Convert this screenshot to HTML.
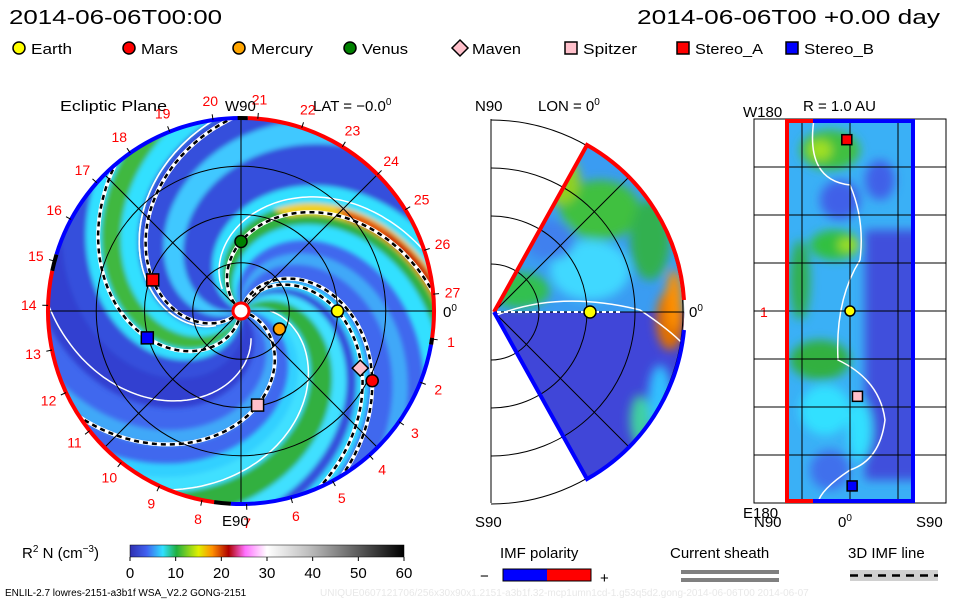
<!DOCTYPE html>
<html><head><meta charset="utf-8">
<style>
html,body{margin:0;padding:0;background:#fff;}
svg{display:block;font-family:"Liberation Sans",sans-serif;}
</style></head>
<body>
<svg id="chart" width="960" height="600" viewBox="0 0 960 600" xmlns="http://www.w3.org/2000/svg">
<defs>
 <filter id="blur2" x="-10%" y="-10%" width="120%" height="120%"><feGaussianBlur stdDeviation="2.5"/></filter>
 <filter id="blur4" x="-10%" y="-10%" width="120%" height="120%"><feGaussianBlur stdDeviation="5"/></filter>
 <clipPath id="clipCircle"><circle cx="241" cy="311" r="193"/></clipPath>
 <clipPath id="clipWedge"><path id="wedgePath" d="M494,312 L587,145 A192,192 0 0 1 587,479 Z"/></clipPath>
 <clipPath id="clipStrip"><rect x="785" y="119" width="130" height="384"/></clipPath>
 <linearGradient id="cbar" x1="0" x2="1" y1="0" y2="0">
  <stop offset="0" stop-color="#3030b0"/>
  <stop offset="0.06" stop-color="#4060f0"/>
  <stop offset="0.12" stop-color="#30e0ff"/>
  <stop offset="0.17" stop-color="#20b040"/>
  <stop offset="0.25" stop-color="#e0f000"/>
  <stop offset="0.3" stop-color="#ff9000"/>
  <stop offset="0.36" stop-color="#b00000"/>
  <stop offset="0.42" stop-color="#ff70ff"/>
  <stop offset="0.5" stop-color="#ffffff"/>
  <stop offset="0.65" stop-color="#c0c0c0"/>
  <stop offset="1" stop-color="#000000"/>
 </linearGradient>
</defs>

<text x="9" y="24" font-size="20" textLength="213" lengthAdjust="spacingAndGlyphs">2014-06-06T00:00</text>
<text x="637" y="24" font-size="20" textLength="303" lengthAdjust="spacingAndGlyphs">2014-06-06T00 +0.00 day</text>
<g id="legend"></g>

<!-- ecliptic panel -->
<g>
 <text x="60" y="111" font-size="15" textLength="107" lengthAdjust="spacingAndGlyphs">Ecliptic Plane</text>
 <text x="313" y="111" font-size="15">LAT = −0.0<tspan font-size="10" dy="-6">0</tspan></text>
 <g clip-path="url(#clipCircle)">
  <circle cx="241" cy="311" r="193" fill="#4068ee"/>
  <g id="bands" filter="url(#blur2)"></g>
  <g id="lines"></g>
 </g>
 <g id="grid1" fill="none" stroke="#000" stroke-width="1"></g>
 <g id="rim"></g>
 <g id="ticks" font-size="14" fill="#ff0000"></g>
 <text x="225" y="111" font-size="15">W90</text>
 <text x="222" y="526" font-size="15">E90</text>
 <text x="443" y="317" font-size="15">0<tspan font-size="10" dy="-6">0</tspan></text>
 <circle cx="241" cy="311" r="8" fill="#fff" stroke="#f00" stroke-width="3"/>
 <g id="planets1"></g>
</g>

<!-- meridional panel -->
<g>
 <text x="475" y="111" font-size="15">N90</text>
 <text x="538" y="111" font-size="15">LON = 0<tspan font-size="10" dy="-6">0</tspan></text>
 <text x="475" y="527" font-size="15">S90</text>
 <text x="689" y="317" font-size="15">0<tspan font-size="10" dy="-6">0</tspan></text>
 <g clip-path="url(#clipWedge)">
  <rect x="480" y="140" width="220" height="345" fill="#3a9cf2"/>
  <rect x="480" y="312" width="220" height="175" fill="#4046d8"/>
  <g filter="url(#blur4)">
   <ellipse cx="600" cy="210" rx="40" ry="30" fill="#40c040"/>
   <ellipse cx="650" cy="240" rx="20" ry="40" fill="#30b050"/>
   <ellipse cx="560" cy="180" rx="20" ry="25" fill="#90d020"/>
   <ellipse cx="520" cy="290" rx="30" ry="18" fill="#30c050"/>
   <ellipse cx="590" cy="270" rx="40" ry="30" fill="#40d8ff"/>
   <ellipse cx="550" cy="240" rx="25" ry="20" fill="#4080ee"/>
   <ellipse cx="670" cy="320" rx="14" ry="30" fill="#e07000"/>
   <ellipse cx="674" cy="300" rx="8" ry="30" fill="#ff9000"/>
   <ellipse cx="660" cy="400" rx="12" ry="35" fill="#30c0ff"/>
   <ellipse cx="640" cy="420" rx="10" ry="25" fill="#40d0a0"/>
  </g>
  <path d="M497,315 Q560,290 640,310 Q670,330 684,345" fill="none" stroke="#fff" stroke-width="1.5"/>
 </g>
 <g id="grid2" fill="none" stroke="#000" stroke-width="1"></g>
 <path d="M494,312 L587,145 A192,192 0 0 1 684,300" fill="none" stroke="#f00" stroke-width="4"/>
 <path d="M684,330 A192,192 0 0 1 587,479 L494,312" fill="none" stroke="#00f" stroke-width="4"/>
 <line x1="497" y1="312" x2="620" y2="312" stroke="#fff" stroke-width="2" stroke-dasharray="4,3"/>
 <g id="planets2"></g>
</g>

<!-- longitude panel -->
<g>
 <text x="743" y="117" font-size="15">W180</text>
 <text x="803" y="111" font-size="15">R = 1.0 AU</text>
 <text x="760" y="317" font-size="14" fill="#f00">1</text>
 <text x="743" y="518" font-size="15">E180</text>
 <text x="754" y="527" font-size="15">N90</text>
 <text x="838" y="527" font-size="15">0<tspan font-size="10" dy="-6">0</tspan></text>
 <text x="916" y="527" font-size="15">S90</text>
 <g clip-path="url(#clipStrip)">
  <rect x="785" y="119" width="130" height="384" fill="#3ab0f6"/>
  <g filter="url(#blur4)">
   <rect x="865" y="230" width="60" height="250" fill="#4050dc"/>
   <ellipse cx="830" cy="150" rx="30" ry="20" fill="#40c040"/>
   <ellipse cx="820" cy="150" rx="12" ry="10" fill="#a0e020"/>
   <ellipse cx="835" cy="245" rx="25" ry="15" fill="#30c040"/>
   <ellipse cx="848" cy="245" rx="10" ry="7" fill="#a0e020"/>
   <ellipse cx="800" cy="280" rx="10" ry="40" fill="#30b050"/>
   <ellipse cx="820" cy="360" rx="30" ry="20" fill="#30b040"/>
   <ellipse cx="825" cy="410" rx="25" ry="25" fill="#30e0ff"/>
   <ellipse cx="840" cy="200" rx="20" ry="20" fill="#4060e8"/>
   <ellipse cx="880" cy="180" rx="15" ry="20" fill="#4060e8"/>
   <ellipse cx="860" cy="430" rx="12" ry="30" fill="#30e0ff"/>
   <ellipse cx="830" cy="470" rx="20" ry="20" fill="#4070ec"/>
  </g>
  <path d="M814,119 Q805,180 850,185 Q865,220 860,260 Q835,300 838,360 Q880,380 885,420 Q880,460 850,470 Q820,490 818,503" fill="none" stroke="#fff" stroke-width="1.5"/>
 </g>
 <g id="grid3" fill="none" stroke="#000" stroke-width="1"></g>
 <path d="M813,121 L787,121 L787,501 L813,501" fill="none" stroke="#f00" stroke-width="4"/>
 <path d="M813,121 L913,121 L913,501 L813,501" fill="none" stroke="#00f" stroke-width="4"/>
 <g id="planets3"></g>
</g>

<!-- bottom legends -->
<g>
 <text x="22" y="558" font-size="15">R<tspan font-size="10" dy="-6">2</tspan><tspan dy="6"> N (cm</tspan><tspan font-size="10" dy="-6">−3</tspan><tspan dy="6">)</tspan></text>
 <rect x="130" y="545" width="274" height="12" fill="url(#cbar)" stroke="#000" stroke-width="0.5"/>
 <g id="cbticks" font-size="15"></g>
</g>
<g>
 <text x="500" y="558" font-size="15">IMF polarity</text>
 <text x="480" y="581" font-size="15">−</text>
 <rect x="503" y="569" width="44" height="12" fill="#0000ff"/>
 <rect x="547" y="569" width="44" height="12" fill="#ff0000"/>
 <rect x="503" y="569" width="88" height="12" fill="none" stroke="#000" stroke-width="1"/>
 <text x="600" y="583" font-size="15">+</text>
</g>
<g>
 <text x="670" y="558" font-size="15">Current sheath</text>
 <rect x="681" y="570" width="98" height="4" fill="#808080"/>
 <rect x="681" y="578" width="98" height="4" fill="#808080"/>
</g>
<g>
 <text x="848" y="558" font-size="15">3D IMF line</text>
 <rect x="850" y="570" width="88" height="11" fill="#d0d0d0"/>
 <line x1="850" y1="575.5" x2="938" y2="575.5" stroke="#000" stroke-width="2.5" stroke-dasharray="8,6"/>
</g>
<text x="5" y="596" font-size="10">ENLIL-2.7 lowres-2151-a3b1f WSA_V2.2 GONG-2151</text>
<text x="320" y="596" font-size="10" fill="#e8e8e8">UNIQUE0607121706/256x30x90x1.2151-a3b1f.32-mcp1umn1cd-1.g53q5d2.gong-2014-06-06T00   2014-06-07</text>

<script>
// ---- data ----
const bodyNames = ["Earth","Mars","Mercury","Venus","Maven","Spitzer","Stereo_A","Stereo_B"];
const bodyColors = ["#ffff00","#ff0000","#ffa500","#008000","#ffc0cb","#ffc0cb","#ff0000","#0000ff"];
const bodyShapes = ["circle","circle","circle","circle","diamond","square","square","square"];
const bodyRadiusAU = [1.0, 1.54, 0.44, 0.72, 1.37, 0.99, 0.97, 1.01];
const bodyLonDeg = [0, -28, -25, 90, -25.6, -80, 160.6, -164];
const bodyStripLat = [0, null, null, null, null, -7, 3, -2];
const bodyStripLon = [0, null, null, null, null, -80, 160.6, -164];
const cbTicks = [0,10,20,30,40,50,60];
const carrLabels = [27,1,2,3,4,5,6,7,8,9,10,11,12,13,14,15,16,17,18,19,20,21,22,23,24,25,26];
const legendWidths = [41,37,62,46,49,54,68,70];
// bands: spiral start angle (deg at r=0), half-width (deg), color
const bandPhi0 = [137, 152, 120, 32, 47, 16, 252, 238, 266, 66, 200, -60, 310, 5, 95, -20];
const bandHalf = [10, 7, 7, 12, 6, 6, 12, 7, 6, 5, 9, 10, 6, 5, 6, 6];
const bandColor = ["#30b040","#30e0ff","#30e0ff","#30b040","#40e0ff","#40e0ff","#40b840","#30e0ff","#30e0ff","#30d8ff","#40c8ff","#3040d0","#3040d0","#30d0ff","#40a8f8","#40a8f8"];

const NS="http://www.w3.org/2000/svg";
function el(tag, attrs, parent){const e=document.createElementNS(NS,tag);for(const k in attrs)e.setAttribute(k,attrs[k]);parent.appendChild(e);return e;}

const cx=241, cy=311, R=193, AUpx=96.5, wind=66;
function xy(rAU,deg){const a=deg*Math.PI/180;return [cx+rAU*AUpx*Math.cos(a), cy-rAU*AUpx*Math.sin(a)];}
function spiral(phi0,r0,r1,off){const pts=[];for(let r=r0;r<=r1+1e-6;r+=0.02){pts.push(xy(r,phi0+off-wind*r));}return pts;}
function toPath(p){return "M"+p.map(q=>q[0].toFixed(1)+","+q[1].toFixed(1)).join(" L");}

function drawMarker(g,shape,x,y,c,s){
 if(shape==="circle") el("circle",{cx:x,cy:y,r:s,fill:c,stroke:"#000","stroke-width":1.5},g);
 else if(shape==="square") el("rect",{x:x-s,y:y-s,width:2*s,height:2*s,fill:c,stroke:"#000","stroke-width":1.5},g);
 else el("path",{d:`M${x},${y-s-2}L${x+s+2},${y}L${x},${y+s+2}L${x-s-2},${y}Z`,fill:c,stroke:"#000","stroke-width":1.5},g);
}

// legend
const leg=document.getElementById("legend");
const legX=[19,129,239,350,460,571,683,792];
bodyNames.forEach((n,i)=>{
 const g=el("g",{},leg);
 
 
 drawMarker(g,bodyShapes[i],legX[i],48,bodyColors[i],6);
 const t=el("text",{x:legX[i]+12,y:54,"font-size":15,textLength:legendWidths[i],lengthAdjust:"spacingAndGlyphs"},g);t.textContent=n;
});

// bands
const bands=document.getElementById("bands");
[[-100,30],[-150,25],[40,25],[175,20]].forEach(b=>{
 const a=spiral(b[0],0,2.2,-b[1]),c=spiral(b[0],0,2.2,b[1]).reverse();
 el("path",{d:toPath(a.concat(c))+"Z",fill:"#3650dc"},bands);
});
bandPhi0.forEach((p,i)=>{
 const a=spiral(p,0.05,2.2,-bandHalf[i]),c=spiral(p,0.05,2.2,bandHalf[i]).reverse();
 const e=el("path",{d:toPath(a.concat(c))+"Z",fill:bandColor[i]},bands);
 
 
});
(function(){
 const a=spiral(140,1.1,2.2,-5),c=spiral(140,1.1,2.2,5).reverse();
 el("path",{d:toPath(a.concat(c))+"Z",fill:"#f0d020"},bands);
 const a2=spiral(140,1.45,2.2,-4),c2=spiral(140,1.45,2.2,3).reverse();
 el("path",{d:toPath(a2.concat(c2))+"Z",fill:"#e05010"},bands);
 const a3=spiral(140,1.7,2.2,-2),c3=spiral(140,1.7,2.2,2).reverse();
 el("path",{d:toPath(a3.concat(c3))+"Z",fill:"#c82010"},bands);
})();
const lines=document.getElementById("lines");
[150,-50,230,20,-130].forEach(p=>{
 el("path",{d:toPath(spiral(p,0.3,2.2,0)),fill:"none",stroke:"#fff","stroke-width":1.5},lines);
});
bodyNames.forEach((n,i)=>{
 if(n==="Mercury"||n==="Maven") return;
 const phi0=bodyLonDeg[i]+wind*bodyRadiusAU[i];
 const d=toPath(spiral(phi0,0.1,2.1,0));
 el("path",{d:d,fill:"none",stroke:"#fff","stroke-width":4},lines);
 const e=el("path",{d:d,fill:"none",stroke:"#000","stroke-width":2.5,"stroke-dasharray":"5,4"},lines);
 
 
});

// grid
const g1=document.getElementById("grid1");
[0.5,1.0,1.5].forEach(r=>el("circle",{cx:cx,cy:cy,r:r*AUpx},g1));
[0,45,90,135].forEach(a=>{const p=xy(2,a),q=xy(2,a+180);el("line",{x1:p[0],y1:p[1],x2:q[0],y2:q[1]},g1);});
const rim=document.getElementById("rim");
function arc(a0,a1,col){const p=xy(2,a0),q=xy(2,a1);el("path",{d:`M${p[0]},${p[1]} A${R},${R} 0 ${Math.abs(a1-a0)>180?1:0} 0 ${q[0]},${q[1]}`,fill:"none",stroke:col,"stroke-width":4},rim);}
arc(-10,88,"#ff0000");arc(90,163,"#0000ff");arc(163,168,"#000");arc(168,262,"#ff0000");arc(262,267,"#000");arc(267,350,"#0000ff");arc(350,352,"#000");arc(88,91,"#000");
const tk=document.getElementById("ticks");
carrLabels.forEach((lab,i)=>{
 const ang=5-i*(360/27);
 const p=xy(2.0,ang),q=xy(2.06,ang),t=xy(2.2,ang);
 el("line",{x1:p[0],y1:p[1],x2:q[0],y2:q[1],stroke:"#000"},tk);
 const e=el("text",{x:t[0],y:t[1]+5,"text-anchor":"middle"},tk);e.textContent=lab;
});

const p1=document.getElementById("planets1");
bodyNames.forEach((n,i)=>{
 const p=xy(bodyRadiusAU[i],bodyLonDeg[i]);
 const g=el("g",{},p1);
 
 
 drawMarker(g,bodyShapes[i],p[0],p[1],bodyColors[i],6);
});

// grid 2
const g2=document.getElementById("grid2");
el("line",{x1:491,y1:119,x2:491,y2:503},g2);
[48,96,144,192].forEach(r=>el("path",{d:`M491,${312-r} A${r},${r} 0 0 1 491,${312+r}`},g2));
el("line",{x1:494,y1:312,x2:684,y2:312},g2);
el("line",{x1:494,y1:312,x2:628,y2:178},g2);
el("line",{x1:494,y1:312,x2:628,y2:446},g2);
const p2=document.getElementById("planets2");
(function(){const g=el("g",{},p2);
 
 
 drawMarker(g,"circle",494+bodyRadiusAU[0]*96,312,bodyColors[0],6);})();

// grid 3
const g3=document.getElementById("grid3");
el("rect",{x:754,y:119,width:192,height:384},g3);
for(let k=1;k<8;k++){const y=119+k*48;el("line",{x1:754,y1:y,x2:946,y2:y},g3);}
[802,850,898].forEach(x=>el("line",{x1:x,y1:119,x2:x,y2:503},g3));
const p3=document.getElementById("planets3");
bodyNames.forEach((n,i)=>{
 if(bodyStripLon[i]===null) return;
 const x=850-bodyStripLat[i]*96/90;
 const y=311-bodyStripLon[i]*192/180;
 const g=el("g",{},p3);
 
 
 drawMarker(g,bodyShapes[i],x,y,bodyColors[i],5);
});

// colorbar ticks
const cb=document.getElementById("cbticks");
cbTicks.forEach(v=>{
 const x=130+v/60*274;
 el("line",{x1:x,y1:557,x2:x,y2:561,stroke:"#000"},cb);
 const t=el("text",{x:x,y:578,"text-anchor":"middle"},cb);t.textContent=v;
});
</script>
</svg>
</body></html>
